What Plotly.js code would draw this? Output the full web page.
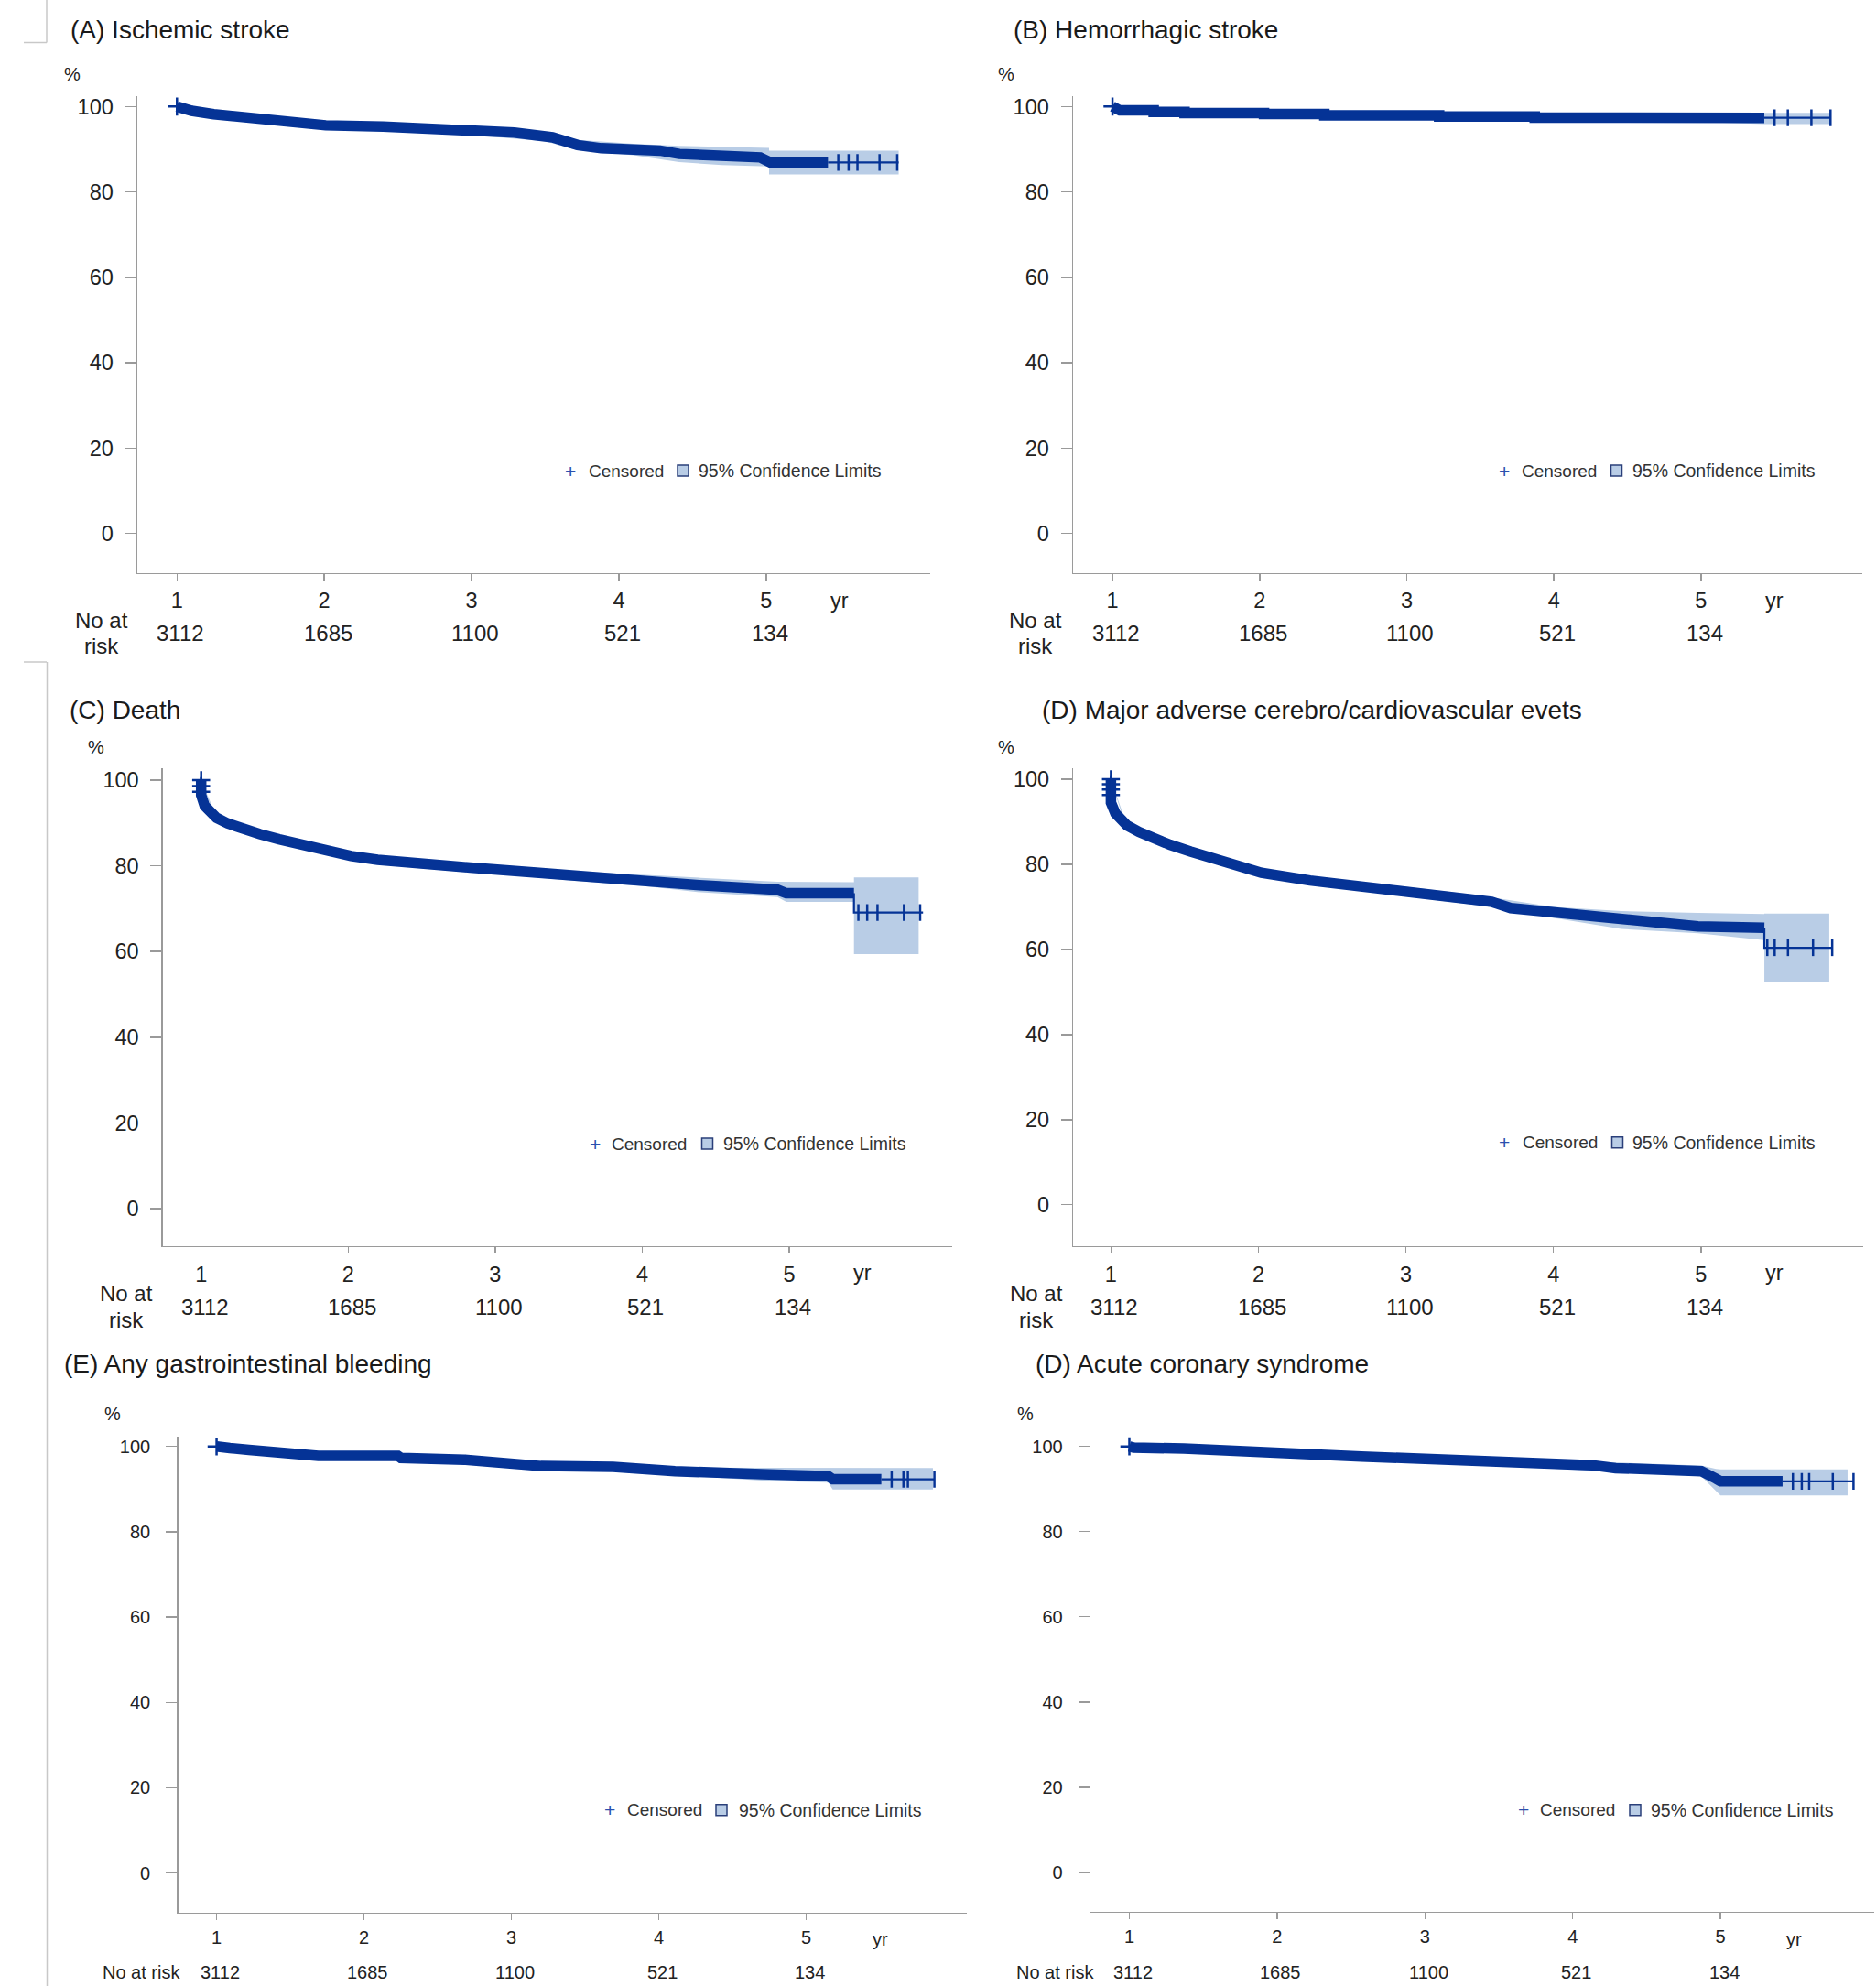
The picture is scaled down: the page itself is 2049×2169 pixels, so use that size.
<!DOCTYPE html>
<html>
<head>
<meta charset="utf-8">
<script src="https://cdn.plot.ly/plotly-3.0.1.min.js"></script>
<style>html,body{margin:0;padding:0;background:#fff}#chart{width:2049px;height:2169px}</style>
</head>
<body>
<div id="chart"></div>
<script>
// ---------------- DATA ----------------
const panelTitles = ["(A) Ischemic stroke", "(B) Hemorrhagic stroke", "(C) Death",
  "(D) Major adverse cerebro/cardiovascular evets", "(E) Any gastrointestinal bleeding", "(D) Acute coronary syndrome"];
const yearTicks = [1, 2, 3, 4, 5];
const yearLabels = ["1", "2", "3", "4", "5"];
const pctTicks = [0, 20, 40, 60, 80, 100];
const riskCounts = [3112, 1685, 1100, 521, 134];

// (A) Ischemic stroke
const A_time = [1.0, 1.1, 1.25, 1.5, 1.71, 1.79, 2.01, 2.4, 2.76, 2.89, 3.29, 3.55, 3.72, 3.88, 4.28, 4.41, 4.70, 4.96, 5.03, 5.42];
const A_surv = [100, 99.0, 98.2, 97.4, 96.8, 96.1, 95.6, 95.3, 94.9, 94.4, 93.9, 92.8, 91.0, 90.25, 89.7, 88.9, 88.4, 88.1, 86.9, 86.9];
const A_tailTime = [5.42, 5.90];
const A_tailSurv = [86.9, 86.9];
const A_censorTail = [5.49, 5.56, 5.62, 5.77, 5.89];
const A_censorStart = [100];
const A_ciTime = [1.0, 1.25, 1.5, 2.0, 2.5, 3.0, 3.5, 3.72, 4.1, 4.41, 4.7, 5.02, 5.02, 5.9];
const A_ciLow  = [100, 97.6, 96.7, 94.8, 94.3, 93.3, 91.9, 89.8, 88.6, 87.0, 86.3, 86.0, 84.1, 84.1];
const A_ciHigh = [100, 98.8, 98.1, 96.4, 96.1, 95.3, 94.1, 92.2, 91.3, 90.8, 90.6, 90.3, 89.7, 89.7];

// (B) Hemorrhagic stroke
const B_time = [1.0, 1.05, 1.28, 1.28, 1.49, 1.49, 2.03, 2.03, 2.44, 2.44, 3.22, 3.22, 3.87, 3.87, 4.26, 4.26, 5.43];
const B_surv = [100, 99.1, 99.1, 98.75, 98.75, 98.45, 98.45, 98.25, 98.25, 97.95, 97.95, 97.65, 97.65, 97.4, 97.4, 97.35, 97.35];
const B_tailTime = [5.43, 5.88];
const B_tailSurv = [97.35, 97.35];
const B_censorTail = [5.50, 5.59, 5.75, 5.88];
const B_censorStart = [100];
const B_ciTime = [1.0, 1.5, 2.0, 3.0, 4.0, 5.0, 5.43, 5.88];
const B_ciLow  = [100, 98.3, 98.0, 97.4, 96.8, 96.4, 95.9, 95.9];
const B_ciHigh = [100, 99.3, 98.9, 98.5, 98.2, 98.3, 98.5, 98.5];

// (C) Death
const C_time = [1.0, 1.0, 1.024, 1.06, 1.105, 1.18, 1.27, 1.4, 1.53, 1.69, 1.85, 2.02, 2.2, 2.44, 2.83, 3.32, 3.65, 4.13, 4.39, 4.92, 4.98, 5.44];
const C_surv = [100, 96.5, 94.0, 92.5, 91.2, 89.9, 88.7, 87.4, 86.2, 84.8, 83.5, 82.3, 81.4, 80.5, 79.6, 78.3, 77.3, 76.3, 75.5, 74.4, 73.6, 73.6];
const C_tailTime = [5.44, 5.44, 5.91];
const C_tailSurv = [73.6, 69.1, 69.1];
const C_censorTail = [5.47, 5.53, 5.60, 5.78, 5.89];
const C_censorStart = [100, 98.6, 97.3];
const C_ciTime = [1.0, 1.1, 1.5, 2.0, 2.5, 3.0, 3.5, 4.0, 4.4, 4.92, 4.98, 5.44, 5.44, 5.88];
const C_ciLow  = [100, 90.7, 85.7, 81.6, 79.4, 78.1, 76.6, 75.3, 73.8, 72.7, 71.6, 71.6, 59.4, 59.4];
const C_ciHigh = [100, 91.9, 87.1, 83.2, 81.2, 80.1, 78.8, 77.9, 77.2, 76.3, 76.2, 76.2, 77.3, 77.3];

// (D) Major adverse cerebro/cardiovascular events
const D_time = [1.0, 1.0, 1.03, 1.07, 1.11, 1.19, 1.28, 1.4, 1.54, 1.73, 1.87, 2.02, 2.35, 2.70, 3.16, 3.58, 3.71, 4.26, 4.46, 4.98, 5.43];
const D_surv = [100, 94.5, 92.0, 90.5, 89.1, 87.6, 86.2, 84.6, 83.0, 81.2, 79.6, 78.0, 76.2, 74.8, 72.9, 71.2, 69.7, 67.9, 66.9, 65.4, 65.1];
const D_tailTime = [5.43, 5.43, 5.89];
const D_tailSurv = [65.1, 60.4, 60.4];
const D_censorTail = [5.45, 5.50, 5.59, 5.76, 5.89];
const D_censorStart = [100, 98.8, 97.6, 96.3];
const D_ciTime = [1.0, 1.1, 1.5, 2.0, 2.5, 3.0, 3.5, 4.0, 4.46, 4.98, 5.43, 5.43, 5.87];
const D_ciLow  = [100, 88.8, 82.6, 77.3, 74.6, 72.5, 70.3, 67.4, 64.8, 63.8, 62.2, 52.3, 52.3];
const D_ciHigh = [100, 90.0, 84.2, 79.1, 76.6, 74.7, 72.7, 70.0, 69.0, 68.6, 68.3, 68.4, 68.4];

// (E) Any gastrointestinal bleeding
const E_time = [1.0, 1.03, 1.09, 1.22, 1.42, 1.69, 2.23, 2.25, 2.68, 3.06, 3.20, 3.69, 4.11, 4.70, 5.15, 5.18, 5.51];
const E_surv = [100, 99.8, 99.6, 99.2, 98.5, 97.8, 97.8, 97.3, 96.9, 96.0, 95.4, 95.2, 94.2, 93.5, 93.0, 92.3, 92.3];
const E_tailTime = [5.51, 5.87];
const E_tailSurv = [92.3, 92.3];
const E_censorTail = [5.58, 5.66, 5.69, 5.87];
const E_censorStart = [100];
const E_ciTime = [1.0, 1.5, 2.5, 3.5, 4.11, 4.70, 5.15, 5.18, 5.86];
const E_ciLow  = [100, 98.1, 96.6, 94.6, 93.3, 92.0, 91.5, 89.9, 89.9];
const E_ciHigh = [100, 98.8, 97.8, 96.0, 95.1, 95.0, 94.9, 94.95, 94.95];

// (F) Acute coronary syndrome
const F_time = [1.0, 1.03, 1.37, 1.79, 2.25, 2.57, 3.0, 3.54, 3.58, 4.13, 4.29, 4.87, 4.97, 5.00, 5.42];
const F_surv = [100, 99.7, 99.5, 98.7, 98.2, 97.6, 97.1, 96.5, 95.9, 95.6, 94.9, 94.2, 92.4, 91.8, 91.8];
const F_tailTime = [5.42, 5.90];
const F_tailSurv = [91.8, 91.8];
const F_censorTail = [5.49, 5.55, 5.60, 5.76, 5.90];
const F_censorStart = [100];
const F_ciTime = [1.0, 2.0, 3.0, 4.0, 4.87, 4.97, 5.0, 5.86];
const F_ciLow  = [100, 97.9, 96.3, 94.6, 93.0, 89.5, 88.5, 88.5];
const F_ciHigh = [100, 99.1, 97.8, 96.6, 95.5, 94.7, 94.6, 94.6];

const series = [
  {time: A_time, surv: A_surv, tT: A_tailTime, tS: A_tailSurv, cT: A_censorTail, cS: A_censorStart, ciT: A_ciTime, lo: A_ciLow, hi: A_ciHigh},
  {time: B_time, surv: B_surv, tT: B_tailTime, tS: B_tailSurv, cT: B_censorTail, cS: B_censorStart, ciT: B_ciTime, lo: B_ciLow, hi: B_ciHigh},
  {time: C_time, surv: C_surv, tT: C_tailTime, tS: C_tailSurv, cT: C_censorTail, cS: C_censorStart, ciT: C_ciTime, lo: C_ciLow, hi: C_ciHigh},
  {time: D_time, surv: D_surv, tT: D_tailTime, tS: D_tailSurv, cT: D_censorTail, cS: D_censorStart, ciT: D_ciTime, lo: D_ciLow, hi: D_ciHigh},
  {time: E_time, surv: E_surv, tT: E_tailTime, tS: E_tailSurv, cT: E_censorTail, cS: E_censorStart, ciT: E_ciTime, lo: E_ciLow, hi: E_ciHigh},
  {time: F_time, surv: F_surv, tT: F_tailTime, tS: F_tailSurv, cT: F_censorTail, cS: F_censorStart, ciT: F_ciTime, lo: F_ciLow, hi: F_ciHigh}
];

// ---------------- LAYOUT (pixel geometry of the page) ----------------
const W = 2049, H = 2169;
const px = x => x / W;
const py = y => 1 - y / H;

const panels = [
  {xd:[150,1016], yd:[104.7,625.6], xr:[0.731,6.114], yr:[-9.2,102.5], title:[75,32.6], pct:[79,81.4], noat:[110.5,677.7,706], single:false, tickY:655.8, riskY:691.6, leg:{plus:[623,514], cens:641, sq:[746,514], ci:761}, big:true},
  {xd:[1172,2034], yd:[104.7,625.6], xr:[0.732,6.096], yr:[-9.2,102.5], title:[1105,32.6], pct:[1099,81.4], noat:[1131,677.7,706], single:false, tickY:655.8, riskY:691.6, leg:{plus:[1643,514], cens:1660, sq:[1765.5,514], ci:1781}, big:true},
  {xd:[177.8,1040], yd:[839.4,1360.8], xr:[0.739,6.108], yr:[-8.74,102.7], title:[74,775], pct:[105,816], noat:[138,1412,1441], single:false, tickY:1390, riskY:1427, leg:{plus:[650,1249], cens:666, sq:[772.5,1249], ci:788}, big:true},
  {xd:[1172.3,2034.5], yd:[839.4,1360.8], xr:[0.745,6.097], yr:[-9.7,102.5], title:[1135.7,775], pct:[1099,816], noat:[1131.5,1412,1441], single:false, tickY:1390, riskY:1427, leg:{plus:[1643.4,1247.7], cens:1660.5, sq:[1766.5,1247.7], ci:1781}, big:true},
  {xd:[194.7,1056], yd:[1568.5,2088.5], xr:[0.74,6.09], yr:[-9.2,102.4], title:[67.6,1489.4], pct:[122.7,1543.6], noat:[154.5,2154], single:true, tickY:2118, riskY:2154, leg:{plus:[666,1976.8], cens:683, sq:[788,1976.8], ci:804.6}, big:false},
  {xd:[1191.2,2047], yd:[1568.5,2087.6], xr:[0.738,6.04], yr:[-9.2,102.4], title:[1129,1489.4], pct:[1120,1543.6], noat:[1152.3,2154], single:true, tickY:2118, riskY:2154, leg:{plus:[1663.6,1976.8], cens:1680, sq:[1786,1976.8], ci:1801}, big:false}
];

const FONT = '"Liberation Sans", Arial, sans-serif';
const LINE = '#053396';
const CI_FILL = '#b9cde6';
const AXIS = '#9a9a9a';
const TXT = '#222222';

const traces = [];
const annotations = [];
const shapes = [];
const layout = {
  width: W, height: H,
  margin: {l:0, r:0, t:0, b:0},
  paper_bgcolor: '#ffffff', plot_bgcolor: '#ffffff',
  showlegend: false,
  font: {family: FONT, color: TXT},
  annotations: annotations, shapes: shapes
};

function stepAt(tArr, sArr, t) {
  let v = sArr[0];
  for (let i = 0; i < tArr.length; i++) { if (tArr[i] <= t) v = sArr[i]; }
  return v;
}

panels.forEach((p, i) => {
  const n = i + 1;
  const xa = n === 1 ? 'x' : 'x' + n;
  const ya = n === 1 ? 'y' : 'y' + n;
  const s = series[i];
  const tickSize = p.big ? 23.5 : 20;

  layout[n === 1 ? 'xaxis' : 'xaxis' + n] = {
    domain: [px(p.xd[0]), px(p.xd[1])], range: p.xr, anchor: ya,
    tickvals: yearTicks, ticktext: yearLabels, ticks: 'outside', ticklen: 7, tickwidth: 1.5, tickcolor: AXIS,
    showline: true, linecolor: AXIS, linewidth: 1.5, showgrid: false, zeroline: false,
    tickfont: {family: FONT, size: tickSize, color: TXT}, ticklabelstandoff: 2, fixedrange: true
  };
  layout[n === 1 ? 'yaxis' : 'yaxis' + n] = {
    domain: [py(p.yd[1]), py(p.yd[0])], range: p.yr, anchor: xa,
    tickvals: pctTicks, ticks: 'outside', ticklen: 12, tickwidth: 1.5, tickcolor: AXIS,
    showline: true, linecolor: AXIS, linewidth: 1.5, showgrid: false, zeroline: false,
    tickfont: {family: FONT, size: tickSize, color: TXT}, ticklabelstandoff: p.big ? 8 : 13, fixedrange: true
  };

  // confidence band
  traces.push({
    type: 'scatter', mode: 'lines', xaxis: xa, yaxis: ya, hoverinfo: 'skip',
    x: s.ciT.concat(s.ciT.slice().reverse()),
    y: s.lo.concat(s.hi.slice().reverse()),
    fill: 'toself', fillcolor: CI_FILL, line: {width: 0, color: CI_FILL}
  });
  // heavily-censored part of the survival curve (dense censor marks -> thick band)
  traces.push({
    type: 'scatter', mode: 'lines', xaxis: xa, yaxis: ya,
    x: s.time, y: s.surv, line: {color: LINE, width: 11.5, shape: 'linear'}
  });
  // sparse tail
  traces.push({
    type: 'scatter', mode: 'lines', xaxis: xa, yaxis: ya,
    x: s.tT, y: s.tS, line: {color: LINE, width: 2.2, shape: 'linear'}
  });
  // sparse censor ticks
  traces.push({
    type: 'scatter', mode: 'markers', xaxis: xa, yaxis: ya,
    x: s.cT, y: s.cT.map(t => stepAt(s.tT, s.tS, t)),
    marker: {symbol: 'line-ns-open', size: 13, color: LINE, line: {color: LINE, width: 2.5}}
  });
  // censor crosses at start
  traces.push({
    type: 'scatter', mode: 'markers', xaxis: xa, yaxis: ya,
    x: s.cS.map(() => s.time[0]), y: s.cS,
    marker: {symbol: 'cross-thin-open', size: 14, color: LINE, line: {color: LINE, width: 2.5}}
  });

  // titles, labels
  annotations.push({xref:'paper', yref:'paper', x:px(p.title[0]), y:py(p.title[1]), xanchor:'left', yanchor:'middle',
    text: panelTitles[i], showarrow:false, font:{family:FONT, size:28, color:'#1a1a1a'}});
  annotations.push({xref:'paper', yref:'paper', x:px(p.pct[0]), y:py(p.pct[1]), xanchor:'center', yanchor:'middle',
    text:'%', showarrow:false, font:{family:FONT, size:20, color:TXT}});
  annotations.push({xref:xa, yref:'paper', x:5.5, y:py(p.tickY), xanchor:'center', yanchor:'middle',
    text:'yr', showarrow:false, font:{family:FONT, size:tickSize, color:TXT}});
  const riskSize = p.big ? 24 : 20;
  if (p.single) {
    annotations.push({xref:'paper', yref:'paper', x:px(p.noat[0]), y:py(p.noat[1]), xanchor:'center', yanchor:'middle',
      text:'No at risk', showarrow:false, font:{family:FONT, size:riskSize, color:TXT}});
  } else {
    annotations.push({xref:'paper', yref:'paper', x:px(p.noat[0]), y:py(p.noat[1]), xanchor:'center', yanchor:'middle',
      text:'No at', showarrow:false, font:{family:FONT, size:riskSize, color:TXT}});
    annotations.push({xref:'paper', yref:'paper', x:px(p.noat[0]), y:py(p.noat[2]), xanchor:'center', yanchor:'middle',
      text:'risk', showarrow:false, font:{family:FONT, size:riskSize, color:TXT}});
  }
  yearTicks.forEach((yv, k) => {
    annotations.push({xref:xa, yref:'paper', x:yv, y:py(p.riskY), xanchor:'center', yanchor:'middle', xshift:4,
      text:String(riskCounts[k]), showarrow:false, font:{family:FONT, size:riskSize, color:TXT}});
  });

  // legend
  const L = p.leg;
  annotations.push({xref:'paper', yref:'paper', x:px(L.plus[0]), y:py(L.plus[1]), xanchor:'center', yanchor:'middle',
    text:'+', showarrow:false, font:{family:FONT, size:21, color:'#2b4fae'}});
  annotations.push({xref:'paper', yref:'paper', x:px(L.cens), y:py(L.plus[1]), xanchor:'left', yanchor:'middle',
    text:'Censored', showarrow:false, font:{family:FONT, size:19, color:'#333333'}});
  shapes.push({type:'rect', xref:'paper', yref:'paper',
    x0:px(L.sq[0]-6), x1:px(L.sq[0]+6), y0:py(L.sq[1]+6), y1:py(L.sq[1]-6),
    fillcolor:CI_FILL, line:{color:'#2a3f7a', width:1.5}});
  annotations.push({xref:'paper', yref:'paper', x:px(L.ci), y:py(L.plus[1]), xanchor:'left', yanchor:'middle',
    text:'95% Confidence Limits', showarrow:false, font:{family:FONT, size:19.5, color:'#333333'}});
});

// crop marks at the left edge of the page
const MARK = '#c8c8c8';
shapes.push({type:'line', xref:'paper', yref:'paper', x0:px(51), x1:px(51), y0:py(0), y1:py(46.5), line:{color:MARK, width:1.5}});
shapes.push({type:'line', xref:'paper', yref:'paper', x0:px(26), x1:px(51), y0:py(46.5), y1:py(46.5), line:{color:MARK, width:1.5}});
shapes.push({type:'line', xref:'paper', yref:'paper', x0:px(26), x1:px(51), y0:py(723), y1:py(723), line:{color:MARK, width:1.5}});
shapes.push({type:'line', xref:'paper', yref:'paper', x0:px(51.5), x1:px(51.5), y0:py(723), y1:py(2169), line:{color:MARK, width:1.5}});

Plotly.newPlot('chart', traces, layout, {staticPlot: true, displayModeBar: false});
</script>
</body>
</html>
